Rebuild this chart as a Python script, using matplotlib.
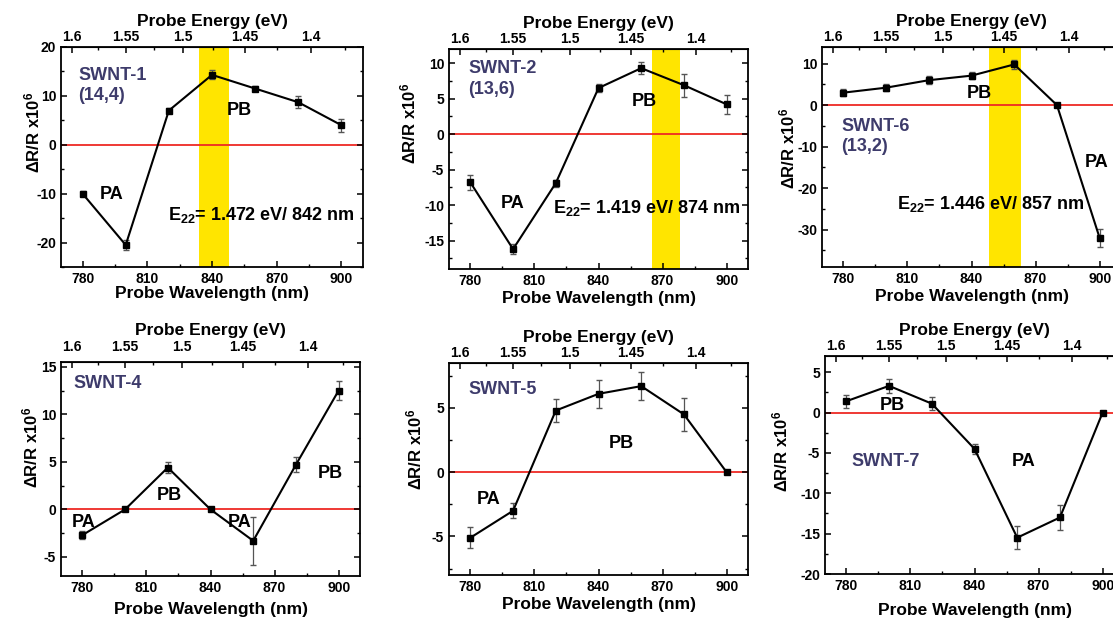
import numpy as np
import matplotlib
matplotlib.use("Agg")
import matplotlib.pyplot as plt
from matplotlib.ticker import MultipleLocator, FixedLocator

plt.rcParams['font.family'] = ['Liberation Sans', 'DejaVu Sans']
plt.rcParams['font.weight'] = 'bold'
plt.rcParams['mathtext.default'] = 'regular'
plt.rcParams['axes.unicode_minus'] = False

wl = [780, 800, 820, 840, 860, 880, 900]
energy_ticks = [1.6, 1.55, 1.5, 1.45, 1.4]

# SWNT-1
y1 = [-10, -20.5, 7, 14.3, 11.5, 8.7, 4]
e1 = [0.5, 1.0, 0.6, 0.9, 0.6, 1.2, 1.3]
# SWNT-2
y2 = [-6.8, -16.2, -6.9, 6.5, 9.3, 6.9, 4.2]
e2 = [1.0, 0.7, 0.5, 0.6, 0.8, 1.6, 1.3]
# SWNT-6
y3 = [3, 4.2, 6, 7.1, 9.8, 0, -32]
e3 = [0.8, 0.9, 1.0, 0.9, 1.0, 0.3, 2.2]
# SWNT-4
y4 = [-2.7, 0, 4.4, 0, -3.3, 4.7, 12.5]
e4 = [0.4, 0.1, 0.6, 0.1, 2.5, 0.8, 1.0]
# SWNT-5
y5 = [-5.1, -3, 4.8, 6.1, 6.7, 4.5, 0]
e5 = [0.8, 0.6, 0.9, 1.1, 1.1, 1.3, 0.1]
# SWNT-7
y6 = [1.4, 3.3, 1.1, -4.5, -15.5, -13, 0]
e6 = [0.8, 0.9, 0.8, 0.6, 1.4, 1.6, 0.2]

W, H = 1113, 618
fig = plt.figure(figsize=(W / 100, H / 100), dpi=100)

navy = '#3d3b6b'


def make_ax(l, r, t, b):
    ax = fig.add_axes([l / W, 1 - b / H, (r - l) / W, (b - t) / H])
    ax._wpx = r - l
    return ax


def panel(ax, y, err, ylim, ymaj, ymin, band=None, ylab=(-25, 0.6), xpad=2, toppad=2):
    if band is not None:
        ax.axvspan(band[0], band[1], color='#ffe500', lw=0, zorder=0)
    ax.axhline(0, color='#ee2a24', lw=1.3, zorder=1)
    ax.errorbar(wl, y, yerr=err, fmt='s-', color='black', ms=4.5, lw=1.5,
                ecolor='#555555', elinewidth=0.9, capsize=2.5, zorder=3)
    ax.set_xlim(770, 910)
    ax.set_ylim(*ylim)
    ax.xaxis.set_major_locator(MultipleLocator(30))
    ax.xaxis.set_minor_locator(MultipleLocator(15))
    ax.yaxis.set_major_locator(MultipleLocator(ymaj))
    ax.yaxis.set_minor_locator(MultipleLocator(ymin))
    ax.tick_params(which='both', direction='in', right=True, labelsize=10)
    ax.tick_params(which='major', length=4, width=1.1)
    ax.tick_params(which='minor', length=2.5, width=1)
    for s in ax.spines.values():
        s.set_linewidth(1.3)
    ax.set_xlabel('Probe Wavelength (nm)', fontsize=12.5, fontweight='bold', labelpad=xpad)
    ax.set_ylabel(r'$\Delta$R/R x10$^{6}$', fontsize=12, fontweight='bold')
    ax.yaxis.set_label_coords(ylab[0] / ax._wpx, ylab[1])
    top = ax.secondary_xaxis('top', functions=(lambda w: 1240.0 / w, lambda e: 1240.0 / e))
    top.xaxis.set_major_locator(FixedLocator(energy_ticks))
    top.xaxis.set_minor_locator(FixedLocator([1.575, 1.525, 1.475, 1.425, 1.375]))
    top.tick_params(which='both', direction='in', labelsize=10, pad=toppad)
    top.tick_params(which='major', length=4, width=1.1)
    top.tick_params(which='minor', length=2.5, width=1)
    top.set_xticklabels([str(e) for e in energy_ticks])
    top.set_xlabel('Probe Energy (eV)', fontsize=12.5, fontweight='bold', labelpad=3)
    return ax


lab = dict(fontsize=13, fontweight='bold')
nlab = dict(fontsize=13, fontweight='bold', color=navy, linespacing=1.3)

ax1 = panel(make_ax(61, 363, 47, 267), y1, e1, (-25, 20), 10, 5, band=(834, 848),
            ylab=(-19, 0.61), xpad=0)
ax1.text(778, 16, 'SWNT-1\n(14,4)', va='top', **nlab)
ax1.text(788, -11, 'PA', **lab)
ax1.text(847, 6, 'PB', **lab)
ax1.text(819.5, -15.3, r'E$_{22}$= 1.472 eV/ 842 nm', **lab)

ax2 = panel(make_ax(449, 748, 49, 269), y2, e2, (-19, 12), 5, 2.5, band=(865, 878),
            ylab=(-31, 0.66))
ax2.text(779, 10.4, 'SWNT-2\n(13,6)', va='top', **nlab)
ax2.text(794, -10.4, 'PA', **lab)
ax2.text(855.5, 3.9, 'PB', **lab)
ax2.text(818.5, -11.1, r'E$_{22}$= 1.419 eV/ 874 nm', **lab)

ax3 = panel(make_ax(822, 1121, 47, 267), y3, e3, (-39, 14), 10, 5, band=(848, 863),
            ylab=(-25, 0.54))
ax3.text(779, -3.0, 'SWNT-6\n(13,2)', va='top', **nlab)
ax3.text(837.7, 1.8, 'PB', **lab)
ax3.text(893, -15, 'PA', **lab)
ax3.text(805, -25, r'E$_{22}$= 1.446 eV/ 857 nm', **lab)

ax4 = panel(make_ax(61, 360, 362, 576), y4, e4, (-7, 15.5), 5, 2.5,
            ylab=(-21, 0.6), xpad=5, toppad=6)
ax4.text(776, 12.8, 'SWNT-4', **nlab)
ax4.text(775, -1.8, 'PA', **lab)
ax4.text(815, 1.0, 'PB', **lab)
ax4.text(848, -1.8, 'PA', **lab)
ax4.text(890, 3.3, 'PB', **lab)

ax5 = panel(make_ax(449, 748, 363, 575), y5, e5, (-8, 8.5), 5, 2.5,
            ylab=(-25, 0.594))
ax5.text(779, 6.1, 'SWNT-5', **nlab)
ax5.text(783, -2.5, 'PA', **lab)
ax5.text(845, 1.85, 'PB', **lab)

ax6 = panel(make_ax(825, 1124, 356, 574), y6, e6, (-20, 7), 5, 2.5,
            ylab=(-35, 0.56), xpad=7.5)
ax6.text(782.5, -6.6, 'SWNT-7', **nlab)
ax6.text(795.5, 0.3, 'PB', **lab)
ax6.text(857.4, -6.6, 'PA', **lab)

fig.savefig('out.png', dpi=100)
